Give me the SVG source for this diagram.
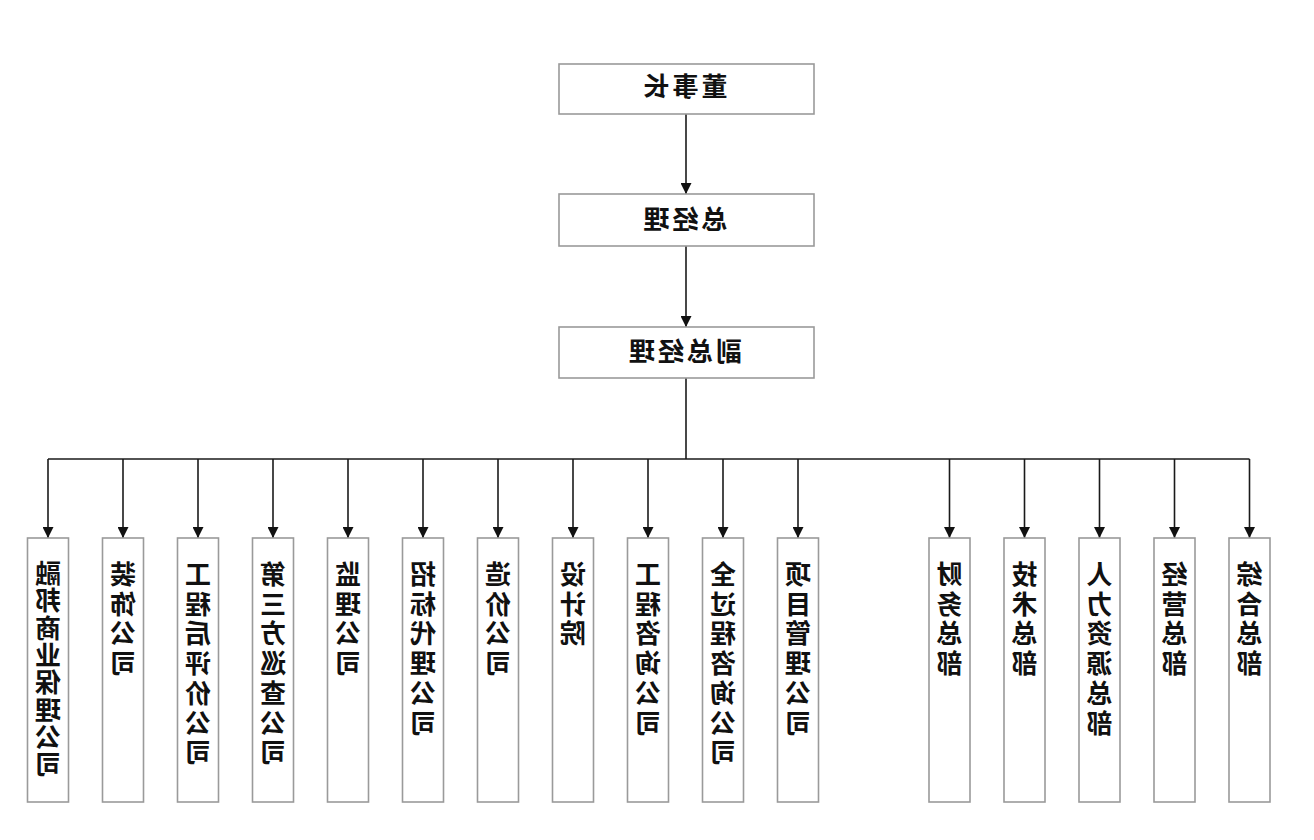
<svg xmlns="http://www.w3.org/2000/svg" width="1314" height="840" viewBox="0 0 1314 840">
<style>
.box{fill:#fff;stroke:#9a9a9a;stroke-width:1.6}
.ln{fill:none;stroke:#1a1a1a;stroke-width:1.6}
.t{font-family:"Noto Sans CJK SC","Noto Sans",sans-serif;font-weight:bold;font-size:26px;fill:#111;text-anchor:middle}
.h{letter-spacing:3px}
</style>
<defs>
<marker id="ah" viewBox="0 0 10 10" refX="10" refY="5" markerWidth="11" markerHeight="11" markerUnits="userSpaceOnUse" orient="auto">
<path d="M0,0 L10,5 L0,10 z" fill="#111"/>
</marker>
</defs>
<rect width="1314" height="840" fill="#fff"/>
<!-- whole picture is mirrored horizontally -->
<g transform="matrix(-1 0 0 1 1314 0)">
<g id="connectors">
<line class="ln" x1="628" y1="114" x2="628" y2="194" marker-end="url(#ah)"/>
<line class="ln" x1="628" y1="246" x2="628" y2="327" marker-end="url(#ah)"/>
<line class="ln" x1="628" y1="378" x2="628" y2="459"/>
<line class="ln" x1="64.5" y1="459" x2="1266" y2="459"/>
<line class="ln" x1="1266" y1="459" x2="1266" y2="538" marker-end="url(#ah)"/>
<line class="ln" x1="1191" y1="459" x2="1191" y2="538" marker-end="url(#ah)"/>
<line class="ln" x1="1116" y1="459" x2="1116" y2="538" marker-end="url(#ah)"/>
<line class="ln" x1="1041" y1="459" x2="1041" y2="538" marker-end="url(#ah)"/>
<line class="ln" x1="966" y1="459" x2="966" y2="538" marker-end="url(#ah)"/>
<line class="ln" x1="891" y1="459" x2="891" y2="538" marker-end="url(#ah)"/>
<line class="ln" x1="816" y1="459" x2="816" y2="538" marker-end="url(#ah)"/>
<line class="ln" x1="741" y1="459" x2="741" y2="538" marker-end="url(#ah)"/>
<line class="ln" x1="666" y1="459" x2="666" y2="538" marker-end="url(#ah)"/>
<line class="ln" x1="591" y1="459" x2="591" y2="538" marker-end="url(#ah)"/>
<line class="ln" x1="516" y1="459" x2="516" y2="538" marker-end="url(#ah)"/>
<line class="ln" x1="364.5" y1="459" x2="364.5" y2="538" marker-end="url(#ah)"/>
<line class="ln" x1="289.5" y1="459" x2="289.5" y2="538" marker-end="url(#ah)"/>
<line class="ln" x1="214.5" y1="459" x2="214.5" y2="538" marker-end="url(#ah)"/>
<line class="ln" x1="139.5" y1="459" x2="139.5" y2="538" marker-end="url(#ah)"/>
<line class="ln" x1="64.5" y1="459" x2="64.5" y2="538" marker-end="url(#ah)"/>
</g>
<g id="n-chairman"><rect class="box" x="500" y="64" width="255" height="50"/><text class="t h" x="630" y="96">董事长</text></g>
<g id="n-gm"><rect class="box" x="500" y="194" width="255" height="52"/><text class="t h" x="630" y="229">总经理</text></g>
<g id="n-vgm"><rect class="box" x="500" y="327" width="255" height="51"/><text class="t h" x="630" y="361">副总经理</text></g>

<g id="n1"><rect class="box" x="1245.5" y="538" width="41" height="264"/><text class="t" x="1266" y="583"><tspan x="1266">融</tspan><tspan x="1266" dy="27.3">邦</tspan><tspan x="1266" dy="27.3">商</tspan><tspan x="1266" dy="27.3">业</tspan><tspan x="1266" dy="27.3">保</tspan><tspan x="1266" dy="27.3">理</tspan><tspan x="1266" dy="27.3">公</tspan><tspan x="1266" dy="27.3">司</tspan></text></g>
<g id="n2"><rect class="box" x="1170.5" y="538" width="41" height="264"/><text class="t" x="1191" y="584"><tspan x="1191">装</tspan><tspan x="1191" dy="29.7">饰</tspan><tspan x="1191" dy="29.7">公</tspan><tspan x="1191" dy="29.7">司</tspan></text></g>
<g id="n3"><rect class="box" x="1095.5" y="538" width="41" height="264"/><text class="t" x="1116" y="584"><tspan x="1116">工</tspan><tspan x="1116" dy="29.7">程</tspan><tspan x="1116" dy="29.7">后</tspan><tspan x="1116" dy="29.7">评</tspan><tspan x="1116" dy="29.7">价</tspan><tspan x="1116" dy="29.7">公</tspan><tspan x="1116" dy="29.7">司</tspan></text></g>
<g id="n4"><rect class="box" x="1020.5" y="538" width="41" height="264"/><text class="t" x="1041" y="584"><tspan x="1041">第</tspan><tspan x="1041" dy="29.7">三</tspan><tspan x="1041" dy="29.7">方</tspan><tspan x="1041" dy="29.7">巡</tspan><tspan x="1041" dy="29.7">查</tspan><tspan x="1041" dy="29.7">公</tspan><tspan x="1041" dy="29.7">司</tspan></text></g>
<g id="n5"><rect class="box" x="945.5" y="538" width="41" height="264"/><text class="t" x="966" y="584"><tspan x="966">监</tspan><tspan x="966" dy="29.7">理</tspan><tspan x="966" dy="29.7">公</tspan><tspan x="966" dy="29.7">司</tspan></text></g>
<g id="n6"><rect class="box" x="870.5" y="538" width="41" height="264"/><text class="t" x="891" y="584"><tspan x="891">招</tspan><tspan x="891" dy="29.7">标</tspan><tspan x="891" dy="29.7">代</tspan><tspan x="891" dy="29.7">理</tspan><tspan x="891" dy="29.7">公</tspan><tspan x="891" dy="29.7">司</tspan></text></g>
<g id="n7"><rect class="box" x="795.5" y="538" width="41" height="264"/><text class="t" x="816" y="584"><tspan x="816">造</tspan><tspan x="816" dy="29.7">价</tspan><tspan x="816" dy="29.7">公</tspan><tspan x="816" dy="29.7">司</tspan></text></g>
<g id="n8"><rect class="box" x="720.5" y="538" width="41" height="264"/><text class="t" x="741" y="584"><tspan x="741">设</tspan><tspan x="741" dy="29.7">计</tspan><tspan x="741" dy="29.7">院</tspan></text></g>
<g id="n9"><rect class="box" x="645.5" y="538" width="41" height="264"/><text class="t" x="666" y="584"><tspan x="666">工</tspan><tspan x="666" dy="29.7">程</tspan><tspan x="666" dy="29.7">咨</tspan><tspan x="666" dy="29.7">询</tspan><tspan x="666" dy="29.7">公</tspan><tspan x="666" dy="29.7">司</tspan></text></g>
<g id="n10"><rect class="box" x="570.5" y="538" width="41" height="264"/><text class="t" x="591" y="584"><tspan x="591">全</tspan><tspan x="591" dy="29.7">过</tspan><tspan x="591" dy="29.7">程</tspan><tspan x="591" dy="29.7">咨</tspan><tspan x="591" dy="29.7">询</tspan><tspan x="591" dy="29.7">公</tspan><tspan x="591" dy="29.7">司</tspan></text></g>
<g id="n11"><rect class="box" x="495.5" y="538" width="41" height="264"/><text class="t" x="516" y="584"><tspan x="516">项</tspan><tspan x="516" dy="29.7">目</tspan><tspan x="516" dy="29.7">管</tspan><tspan x="516" dy="29.7">理</tspan><tspan x="516" dy="29.7">公</tspan><tspan x="516" dy="29.7">司</tspan></text></g>
<g id="n12"><rect class="box" x="344" y="538" width="41" height="264"/><text class="t" x="364.5" y="584"><tspan x="364.5">财</tspan><tspan x="364.5" dy="29.7">务</tspan><tspan x="364.5" dy="29.7">总</tspan><tspan x="364.5" dy="29.7">部</tspan></text></g>
<g id="n13"><rect class="box" x="269" y="538" width="41" height="264"/><text class="t" x="289.5" y="584"><tspan x="289.5">技</tspan><tspan x="289.5" dy="29.7">术</tspan><tspan x="289.5" dy="29.7">总</tspan><tspan x="289.5" dy="29.7">部</tspan></text></g>
<g id="n14"><rect class="box" x="194" y="538" width="41" height="264"/><text class="t" x="214.5" y="584"><tspan x="214.5">人</tspan><tspan x="214.5" dy="29.7">力</tspan><tspan x="214.5" dy="29.7">资</tspan><tspan x="214.5" dy="29.7">源</tspan><tspan x="214.5" dy="29.7">总</tspan><tspan x="214.5" dy="29.7">部</tspan></text></g>
<g id="n15"><rect class="box" x="119" y="538" width="41" height="264"/><text class="t" x="139.5" y="584"><tspan x="139.5">经</tspan><tspan x="139.5" dy="29.7">营</tspan><tspan x="139.5" dy="29.7">总</tspan><tspan x="139.5" dy="29.7">部</tspan></text></g>
<g id="n16"><rect class="box" x="44" y="538" width="41" height="264"/><text class="t" x="64.5" y="584"><tspan x="64.5">综</tspan><tspan x="64.5" dy="29.7">合</tspan><tspan x="64.5" dy="29.7">总</tspan><tspan x="64.5" dy="29.7">部</tspan></text></g>
</g>
</svg>
